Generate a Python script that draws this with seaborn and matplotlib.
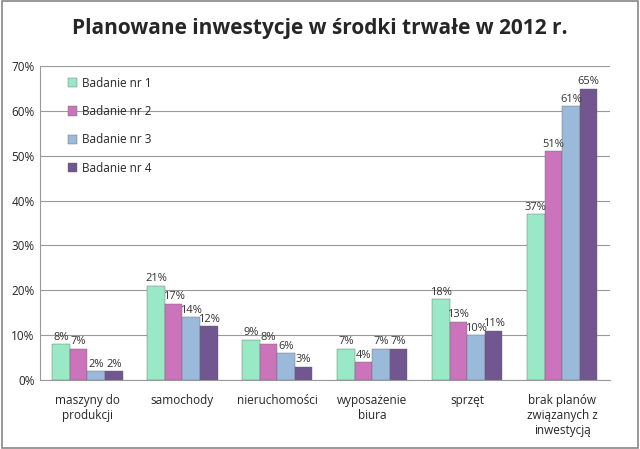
import pandas as pd
import numpy as np
import matplotlib
matplotlib.use("Agg")
import matplotlib.pyplot as plt
import seaborn as sns

categories = ["maszyny do\nprodukcji", "samochody", "nieruchomości",
              "wyposażenie\nbiura", "sprzęt", "brak planów\nzwiązanych z\ninwestycją"]
series = ["Badanie nr 1", "Badanie nr 2", "Badanie nr 3", "Badanie nr 4"]
badanie_1 = [8, 21, 9, 7, 18, 37]
badanie_2 = [7, 17, 8, 4, 13, 51]
badanie_3 = [2, 14, 6, 7, 10, 61]
badanie_4 = [2, 12, 3, 7, 11, 65]
colors = ["#8CF5C8", "#D966C4", "#8FB8E6", "#704C99"]

rows = []
for s, vals in zip(series, [badanie_1, badanie_2, badanie_3, badanie_4]):
    for c, v in zip(categories, vals):
        rows.append({"kategoria": c, "badanie": s, "wartosc": v})
df = pd.DataFrame(rows)

sns.set_style("white")
plt.rcParams["font.family"] = ["Open Sans", "DejaVu Sans"]

fig = plt.figure(figsize=(6.4, 4.49), dpi=100)
ax = fig.add_axes([0.0625, 0.1537, 0.89, 0.699])

sns.barplot(data=df, x="kategoria", y="wartosc", hue="badanie",
            palette=colors, width=0.74, edgecolor="#666666", linewidth=0.3,
            ax=ax, zorder=3)

for cont in ax.containers:
    ax.bar_label(cont, labels=[f"{int(round(v))}%" for v in cont.datavalues],
                 fontsize=8, color="#333333", padding=1)

ax.set_ylim(0, 70)
ax.set_yticks(range(0, 71, 10))
ax.set_yticklabels([f"{v}%" for v in range(0, 71, 10)], fontsize=8.5)
ax.yaxis.grid(True, color="#999999", linewidth=0.8, zorder=0)
ax.set_axisbelow(True)
ax.set_xlabel("")
ax.set_ylabel("")
ax.tick_params(axis="x", labelsize=8.5, length=0, pad=10)
ax.tick_params(axis="y", length=0, pad=4)
for sp in ["top", "right"]:
    ax.spines[sp].set_visible(False)
for sp in ["left", "bottom"]:
    ax.spines[sp].set_color("#999999")
ax.set_xlim(-0.5, 5.5)

leg = ax.legend(loc="upper left", bbox_to_anchor=(0.03, 1.0), frameon=False,
                fontsize=8.5, labelspacing=1.3, handlelength=0.8, handleheight=0.8,
                handletextpad=0.4)

fig.suptitle("Planowane inwestycje w środki trwałe w 2012 r.", fontsize=15,
             fontweight="bold", y=0.96)

fig.patches.append(plt.Rectangle((0.003, 0.003), 0.994, 0.994, transform=fig.transFigure,
                                 fill=False, edgecolor="#888888", linewidth=1.2))

fig.savefig("out.png", dpi=100)
